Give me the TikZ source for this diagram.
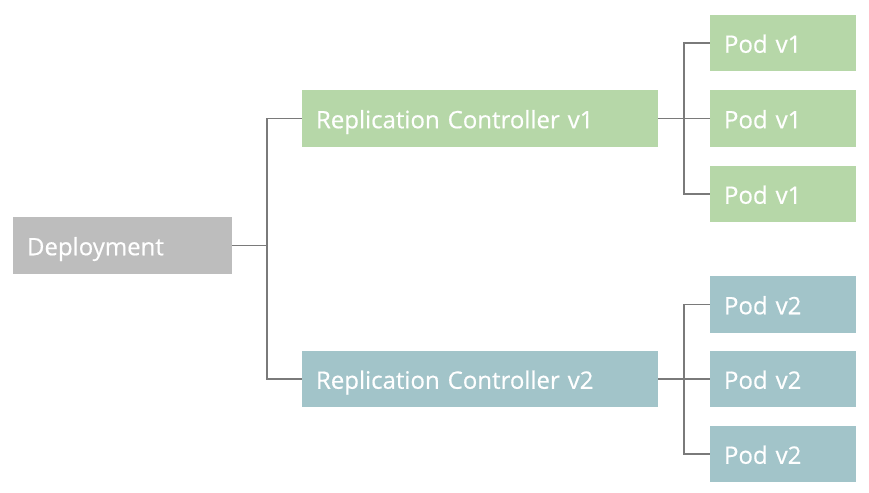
\documentclass[tikz,border=0pt]{standalone}
\usepackage{fontspec}
\setmainfont{Open Sans}[FakeBold=0.5]
\begin{document}
\begin{tikzpicture}[x=1pt,y=-1pt,
  box/.style={text height=38pt, text depth=18.5pt, inner xsep=14pt, inner ysep=0pt,
    text=white, font=\fontsize{24}{28}\selectfont, align=left, anchor=center},
  depbox/.style={box, fill=depgray, minimum width=219pt, text width=191pt},
  rcone/.style={box, fill=vonegreen, minimum width=356pt, text width=328pt},
  rctwo/.style={box, fill=vtwoblue, minimum width=356pt, text width=328pt},
  podone/.style={box, fill=vonegreen, minimum width=146pt, text width=118pt},
  podtwo/.style={box, fill=vtwoblue, minimum width=146pt, text width=118pt},
  link/.style={draw=linegray, line width=1.4pt}]
\definecolor{depgray}{HTML}{BDBDBD}
\definecolor{vonegreen}{HTML}{B6D7A8}
\definecolor{vtwoblue}{HTML}{A2C4C9}
\definecolor{linegray}{HTML}{7A7A7A}
\useasboundingbox[fill=white] (0,0) rectangle (869,492);

% boxes
\node[depbox] (dep) at (122.5,245.5) {Deployment};
\node[rcone] (rc1) at (480,118.5) {Replication Controller v1};
\node[rctwo] (rc2) at (480,379) {Replication Controller v2};
\node[podone] (p11) at (783,43) {Pod v1};
\node[podone] (p12) at (783,118.5) {Pod v1};
\node[podone] (p13) at (783,194) {Pod v1};
\node[podtwo] (p21) at (783,304.5) {Pod v2};
\node[podtwo] (p22) at (783,379) {Pod v2};
\node[podtwo] (p23) at (783,454) {Pod v2};

% branch points
\coordinate (bd) at (267,245.5);
\coordinate (b1) at (684,118.5);
\coordinate (b2) at (684,379);

% connectors
\draw[link] (dep.east) -- (bd);
\draw[link] (bd) |- (rc1.west);
\draw[link] (bd) |- (rc2.west);
\draw[link] (rc1.east) -- (p12.west);
\draw[link] (b1) |- (p11.west);
\draw[link] (b1) |- (p13.west);
\draw[link] (rc2.east) -- (p22.west);
\draw[link] (b2) |- (p21.west);
\draw[link] (b2) |- (p23.west);
\end{tikzpicture}
\end{document}
